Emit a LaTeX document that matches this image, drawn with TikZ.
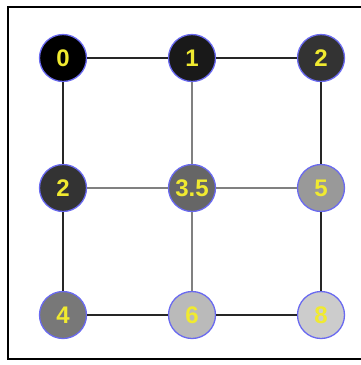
\documentclass[tikz,border=0pt]{standalone}
\usepackage{fontspec}
\setmainfont{Liberation Sans}
\begin{document}
\begin{tikzpicture}[x=1pt,y=-1pt,
  vertex/.style={circle, draw=ringblue, line width=1.3pt, minimum size=47pt, inner sep=0pt,
    text=numyellow, font=\fontsize{24}{24}\selectfont\bfseries},
  outer/.style={draw=black!85, line width=2.4pt},
  inner/.style={draw=black!50, line width=1.8pt}]
\definecolor{ringblue}{HTML}{6A6AF0}
\definecolor{numyellow}{HTML}{F0EA30}
\useasboundingbox (0,0) rectangle (361,365);
% frame, its right side running past the edge
\draw[line width=2pt] (372,7) -- (8,7) -- (8,359) -- (372,359);
% grid vertices
\node[vertex, fill=black]      (a) at (63,58)   {0};
\node[vertex, fill=black!90]   (b) at (192,58)  {1};
\node[vertex, fill=black!80]   (c) at (321,58)  {2};
\node[vertex, fill=black!80]   (d) at (63,188)  {2};
\node[vertex, fill=black!60]   (e) at (192,188) {3.5};
\node[vertex, fill=black!40]   (f) at (321,188) {5};
\node[vertex, fill=black!53]   (g) at (63,315)  {4};
\node[vertex, fill=black!27]   (h) at (192,315) {6};
\node[vertex, fill=black!20]   (i) at (321,315) {8};
% edges
\path[outer] (a) -- (b);
\path[outer] (b) -- (c);
\path[outer] (a) -- (d);
\path[outer] (d) -- (g);
\path[outer] (c) -- (f);
\path[outer] (f) -- (i);
\path[outer] (g) -- (h);
\path[outer] (h) -- (i);
\path[inner] (b) -- (e);
\path[inner] (e) -- (h);
\path[inner] (d) -- (e);
\path[inner] (e) -- (f);
\end{tikzpicture}
\end{document}
